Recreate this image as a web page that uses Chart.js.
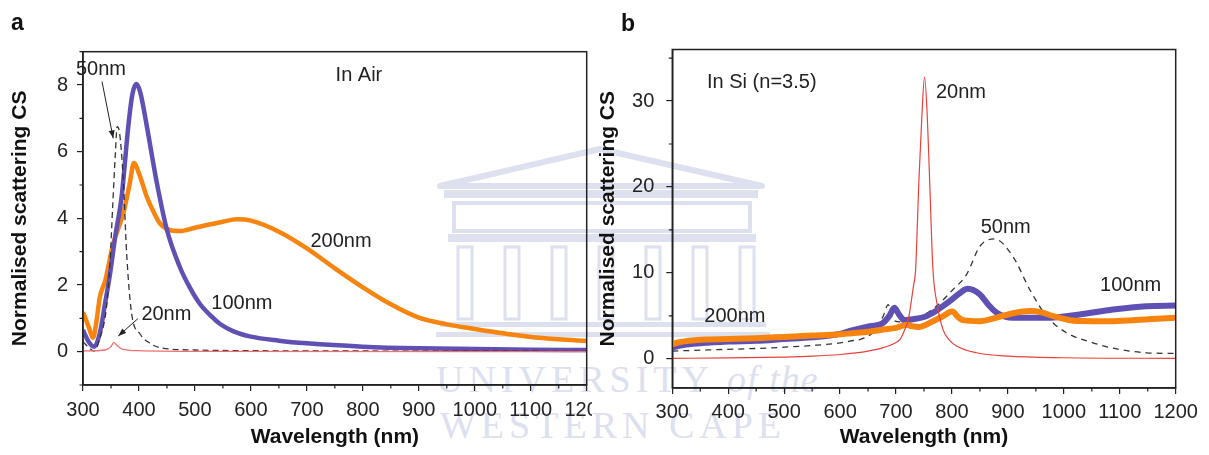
<!DOCTYPE html>
<html>
<head>
<meta charset="utf-8">
<script src="https://cdn.jsdelivr.net/npm/chart.js@4.4.1/dist/chart.umd.min.js"></script>
<style>
  body { margin: 0; background: #fff; width: 1209px; height: 455px; overflow: hidden; position: relative; font-family: 'Liberation Sans', Arial, sans-serif; }
  #wrapA { position: absolute; left: 0; top: 0; width: 592px; height: 455px; overflow: hidden; }
  #cb { position: absolute; left: 595px; top: 0; }
  .lbl { position: absolute; font-weight: bold; font-size: 23px; line-height: 1; color: #111; }
  .wm { position: absolute; font-family: 'Liberation Serif', 'DejaVu Serif', serif; color: #dde0ee; font-size: 38px; letter-spacing: 5px; line-height: 1; white-space: nowrap; }
</style>
</head>
<body>
<!-- faint watermark behind the plots -->
<svg width="1209" height="455" style="position:absolute;left:0;top:0" fill="none" stroke="#dde0ee">
  <polygon points="440,186 600,149 762,186" stroke-width="6" stroke-linejoin="round"/>
  <rect x="444" y="190" width="314" height="8" fill="#dde0ee" stroke="none"/>
  <rect x="454" y="203" width="296" height="28" stroke-width="4"/>
  <rect x="448" y="234" width="308" height="8" fill="#dde0ee" stroke="none"/>
  <g stroke-width="3">
    <rect x="458" y="247" width="14" height="72"/>
    <rect x="505" y="247" width="14" height="72"/>
    <rect x="552" y="247" width="14" height="72"/>
    <rect x="599" y="247" width="14" height="72"/>
    <rect x="646" y="247" width="14" height="72"/>
    <rect x="693" y="247" width="14" height="72"/>
    <rect x="740" y="247" width="14" height="72"/>
  </g>
  <rect x="440" y="322" width="326" height="5" fill="#dde0ee" stroke="none"/>
  <rect x="436" y="332" width="334" height="5" fill="#dde0ee" stroke="none"/>
</svg>
<div class="wm" style="left:436px;top:360px">UNIVERSITY <i style="letter-spacing:1px">of the</i></div>
<div class="wm" style="left:440px;top:406px">WESTERN CAPE</div>

<div id="wrapA"><canvas id="ca" width="620" height="455"></canvas></div>
<canvas id="cb" width="614" height="455"></canvas>
<div class="lbl" style="left:11px;top:11px">a</div>
<div class="lbl" style="left:621px;top:12px">b</div>

<script>
const xTicks = [300, 400, 500, 600, 700, 800, 900, 1000, 1100, 1200];
const xMinor = [350, 450, 550, 650, 750, 850, 950, 1050, 1150];
const yTicksA = [0, 2, 4, 6, 8];
const yMinorA = [-1, 1, 3, 5, 7, 9];
const yTicksB = [0, 10, 20, 30];
const yMinorB = [5, 15, 25, 35];

// panel a: in air
const airWl20 = [300, 340, 350, 355, 360, 370, 400, 500, 1200];
const air20 = [0.02, 0.05, 0.15, 0.28, 0.2, 0.08, 0.03, 0.01, 0];
const airWl50 = [300, 312, 320, 330, 342, 348, 353, 358, 361, 365, 372, 378, 387, 402, 420, 437, 500, 600, 800, 1200];
const air50 = [0.3, 0.1, 0.02, 0.4, 1.33, 2.6, 4.35, 6.0, 6.75, 6.6, 5.15, 2.94, 1.13, 0.53, 0.25, 0.12, 0.05, 0.03, 0.02, 0.01];
const airWl100 = [300, 310, 320, 330, 340, 348, 358, 369, 381, 388, 395, 402, 414, 423, 432, 450, 473, 490, 509, 530, 545, 570, 600, 650, 700, 800, 900, 1000, 1100, 1200];
const air100 = [0.65, 0.3, 0.15, 0.55, 1.5, 2.3, 3.5, 4.65, 6.77, 7.7, 8.03, 7.8, 6.77, 5.9, 5.06, 3.65, 2.54, 1.95, 1.43, 1.05, 0.83, 0.6, 0.45, 0.33, 0.25, 0.15, 0.1, 0.08, 0.06, 0.05];
const airWl200 = [300, 310, 318, 324, 330, 340, 354, 372, 383, 391, 400, 414, 426, 437, 455, 473, 500, 550, 575, 600, 650, 700, 750, 800, 850, 900, 950, 1000, 1050, 1100, 1150, 1200];
const air200 = [1.18, 0.75, 0.42, 0.9, 1.63, 2.15, 3.24, 4.15, 5.0, 5.66, 5.35, 4.65, 4.2, 3.86, 3.65, 3.62, 3.72, 3.9, 3.97, 3.93, 3.6, 3.1, 2.5, 1.93, 1.42, 1.02, 0.82, 0.68, 0.55, 0.44, 0.37, 0.32];

// panel b: in Si
const siWl20 = [300, 400, 500, 550, 600, 650, 677, 700, 707, 715, 722, 731, 735, 741, 746, 751, 756, 760, 766, 773, 784, 795, 808, 844, 900, 1000, 1200];
const si20 = [0.05, 0.1, 0.2, 0.3, 0.5, 0.9, 1.3, 1.9, 2.25, 3.3, 4.6, 8.4, 10.4, 20.9, 28, 32.8, 28, 20.9, 10.4, 6.5, 3.4, 2.2, 1.5, 0.7, 0.3, 0.12, 0.05];
const siWl50 = [300, 350, 400, 450, 500, 550, 600, 617, 644, 665, 677, 686, 695, 710, 740, 770, 802, 826, 850, 876, 909, 939, 969, 1005, 1052, 1100, 1148, 1200];
const si50 = [0.9, 1.0, 1.1, 1.2, 1.35, 1.55, 1.85, 2.05, 2.44, 3.5, 4.96, 6.3, 4.5, 4.3, 4.8, 6.0, 8.07, 9.8, 13.1, 13.95, 11.9, 8.07, 4.96, 3.03, 1.86, 1.08, 0.7, 0.62];
const siWl100 = [300, 320, 350, 400, 450, 500, 550, 600, 621, 653, 675, 688, 697, 705, 715, 730, 754, 772, 796, 815, 828, 850, 865, 880, 909, 969, 1028, 1088, 1148, 1200];
const si100 = [1.3, 1.6, 1.8, 2.0, 2.1, 2.3, 2.5, 2.9, 3.3, 3.8, 4.1, 5.0, 5.94, 5.2, 4.5, 4.6, 4.96, 5.6, 6.7, 7.7, 8.15, 7.49, 6.3, 5.36, 4.77, 4.77, 5.16, 5.74, 6.12, 6.2];
const siWl200 = [300, 310, 330, 360, 400, 450, 500, 550, 600, 621, 650, 677, 700, 712, 719, 728, 740, 766, 785, 796, 801, 810, 820, 850, 880, 909, 940, 960, 981, 1005, 1028, 1088, 1150, 1200];
const si200 = [1.7, 1.9, 2.1, 2.25, 2.3, 2.4, 2.55, 2.7, 2.85, 2.98, 3.15, 3.41, 3.6, 3.85, 3.95, 3.8, 3.7, 4.38, 5.0, 5.45, 5.5, 4.9, 4.5, 4.38, 4.8, 5.3, 5.55, 5.4, 4.96, 4.58, 4.4, 4.38, 4.6, 4.77];

const PURPLE = '#5f50b4';
const ORANGE = '#f7840e';
const FONT = "'Liberation Sans', Arial, sans-serif";

const pts = (xs, ys) => xs.map((x, i) => ({ x, y: ys[i] }));

function line(xs, ys, color, width, dash) {
  return {
    data: pts(xs, ys),
    borderColor: color,
    borderWidth: width,
    borderDash: dash || [],
    pointRadius: 0,
    fill: false,
    cubicInterpolationMode: 'monotone'
  };
}

// box round the plot, minor ticks, labels and arrows
function framePlugin(yMinor, notes, arrows) {
  return {
    id: 'frame',
    afterDatasetsDraw(chart) {
      const { ctx, chartArea: a, scales: { x, y } } = chart;
      ctx.save();
      ctx.strokeStyle = '#222';
      ctx.lineWidth = 1.5;
      ctx.strokeRect(a.left, a.top, a.right - a.left, a.bottom - a.top);
      ctx.lineWidth = 1.2;
      ctx.beginPath();
      xMinor.forEach(v => {
        const px = x.getPixelForValue(v);
        ctx.moveTo(px, a.bottom);
        ctx.lineTo(px, a.bottom + 3.5);
      });
      yMinor.forEach(v => {
        const py = y.getPixelForValue(v);
        ctx.moveTo(a.left, py);
        ctx.lineTo(a.left - 3.5, py);
      });
      ctx.stroke();

      ctx.fillStyle = '#222';
      ctx.font = '20px ' + FONT;
      ctx.textAlign = 'center';
      ctx.textBaseline = 'middle';
      notes.forEach(n => ctx.fillText(n.t, x.getPixelForValue(n.x), y.getPixelForValue(n.y)));

      ctx.strokeStyle = '#222';
      ctx.lineWidth = 1;
      arrows.forEach(([x1, y1, x2, y2]) => {
        const ax = x.getPixelForValue(x1), ay = y.getPixelForValue(y1);
        const bx = x.getPixelForValue(x2), by = y.getPixelForValue(y2);
        const ang = Math.atan2(by - ay, bx - ax);
        ctx.beginPath();
        ctx.moveTo(ax, ay);
        ctx.lineTo(bx, by);
        ctx.stroke();
        ctx.beginPath();
        ctx.moveTo(bx, by);
        ctx.lineTo(bx - 8 * Math.cos(ang) + 3 * Math.sin(ang), by - 8 * Math.sin(ang) - 3 * Math.cos(ang));
        ctx.lineTo(bx - 8 * Math.cos(ang) - 3 * Math.sin(ang), by - 8 * Math.sin(ang) + 3 * Math.cos(ang));
        ctx.closePath();
        ctx.fill();
      });
      ctx.restore();
    }
  };
}

function axes(o) {
  return {
    x: {
      type: 'linear', min: 300, max: 1200,
      afterBuildTicks: s => { s.ticks = xTicks.map(v => ({ value: v })); },
      afterFit: s => { s.height = o.xh; },
      grid: { drawOnChartArea: false, tickLength: 6, color: '#222', lineWidth: 1.2 },
      border: { color: '#222', width: 1.5 },
      ticks: { color: '#222', font: { family: FONT, size: 20 }, padding: o.xpad, maxRotation: 0, autoSkip: false, callback: v => String(v) },
      title: { display: true, text: 'Wavelength (nm)', color: '#111', font: { family: FONT, size: 21, weight: 'bold' }, padding: { top: 0, bottom: 5.4 } }
    },
    y: {
      type: 'linear', min: o.ymin, max: o.ymax,
      afterBuildTicks: s => { s.ticks = o.yTicks.map(v => ({ value: v })); },
      afterFit: s => { s.width = o.yw; },
      grid: { drawOnChartArea: false, tickLength: 6, color: '#222', lineWidth: 1.2 },
      border: { color: '#222', width: 1.5 },
      ticks: { color: '#222', font: { family: FONT, size: 20 }, padding: o.ypad, callback: v => String(v) },
      title: { display: true, text: 'Normalised scattering CS', color: '#111', font: { family: FONT, size: 21, weight: 'bold' }, padding: { top: o.tpad, bottom: 0 } }
    }
  };
}

const common = {
  responsive: false,
  animation: false,
  events: [],
  plugins: { legend: { display: false }, tooltip: { enabled: false } }
};

new Chart(document.getElementById('ca'), {
  type: 'line',
  data: {
    datasets: [
      line(airWl20, air20, '#ef7070', 1.3),
      line(airWl50, air50, '#333', 1.3, [6, 4]),
      line(airWl100, air100, PURPLE, 4.5),
      line(airWl200, air200, ORANGE, 4.5)
    ]
  },
  options: {
    ...common,
    layout: { padding: { left: 0, top: 51.7, right: 33.3, bottom: 0 } },
    scales: axes({ xh: 70, xpad: 7.3, ymin: -1, ymax: 9, yTicks: yTicksA, yw: 83, ypad: 9, tpad: 7.4 })
  },
  plugins: [framePlugin(yMinorA,
    [{ t: '50nm', x: 332, y: 8.48 }, { t: 'In Air', x: 793, y: 8.3 }, { t: '200nm', x: 761, y: 3.31 },
     { t: '100nm', x: 584, y: 1.44 }, { t: '20nm', x: 449, y: 1.11 }],
    [[334, 8.1, 354, 6.4], [398, 0.99, 363, 0.47]])]
});

new Chart(document.getElementById('cb'), {
  type: 'line',
  data: {
    datasets: [
      line(siWl20, si20, '#e8403a', 1.2),
      line(siWl200, si200, ORANGE, 6),
      line(siWl100, si100, PURPLE, 6),
      line(siWl50, si50, '#333', 1.3, [6, 5])
    ]
  },
  options: {
    ...common,
    layout: { padding: { left: 0, top: 49.5, right: 33.3, bottom: 0 } },
    scales: axes({ xh: 67, xpad: 6, ymin: -3.4, ymax: 36, yTicks: yTicksB, yw: 77.3, ypad: 12, tpad: 1 })
  },
  plugins: [framePlugin(yMinorB,
    [{ t: 'In Si (n=3.5)', x: 460, y: 32.2 }, { t: '20nm', x: 816, y: 31.0 }, { t: '50nm', x: 896, y: 15.3 },
     { t: '100nm', x: 1119.5, y: 8.57 }, { t: '200nm', x: 412, y: 4.87 }],
    [])]
});
</script>
</body>
</html>
